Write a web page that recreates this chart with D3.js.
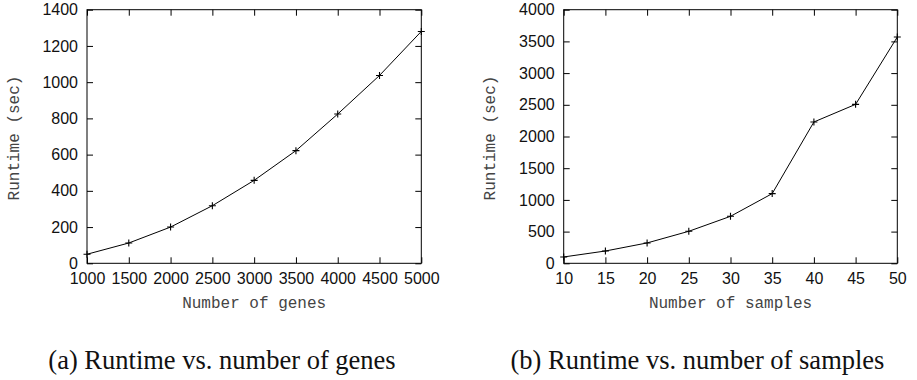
<!DOCTYPE html>
<html>
<head>
<meta charset="utf-8">
<script src="https://cdn.jsdelivr.net/npm/d3@7"></script>
<style>
  body { margin: 0; background: #fff; }
  svg { display: block; }
  .tick text { font-family: "Liberation Sans", Arial, sans-serif; font-size: 16px; fill: #111; }
  .axis-title { font-family: "Liberation Mono", "Courier New", monospace; font-size: 16px; fill: #444; }
  .caption { font-family: "Liberation Serif", "Times New Roman", serif; font-size: 26.5px; fill: #111; }
</style>
</head>
<body>
<svg id="chart" width="917" height="380"></svg>
<script>
// (a) runtime vs number of genes
const genesX = [1000, 1500, 2000, 2500, 3000, 3500, 4000, 4500, 5000];
const genesRuntime = [50, 112, 200, 318, 458, 622, 824, 1037, 1280];
const genesXTicks = [1000, 1500, 2000, 2500, 3000, 3500, 4000, 4500, 5000];
const genesYTicks = [0, 200, 400, 600, 800, 1000, 1200, 1400];

// (b) runtime vs number of samples
const samplesX = [10, 15, 20, 25, 30, 35, 40, 45, 50];
const samplesRuntime = [100, 194, 321, 505, 741, 1099, 2229, 2507, 3569];
const samplesXTicks = [10, 15, 20, 25, 30, 35, 40, 45, 50];
const samplesYTicks = [0, 500, 1000, 1500, 2000, 2500, 3000, 3500, 4000];

const svg = d3.select("#chart");
const plotTop = 9.7, plotBottom = 263.3, tick = 6;

function drawPanel(p) {
  const x = d3.scaleLinear().domain(d3.extent(p.xTicks)).range([p.left, p.right]);
  const y = d3.scaleLinear().domain(d3.extent(p.yTicks)).range([plotBottom, plotTop]);
  const g = svg.append("g");

  // ticks on all four sides, pointing inwards (gnuplot style)
  g.append("g").attr("transform", `translate(0,${plotBottom})`)
    .call(d3.axisBottom(x).tickValues(p.xTicks).tickSize(-tick).tickPadding(9.5).tickFormat(d3.format("d")));
  g.append("g").attr("transform", `translate(0,${plotTop})`)
    .call(d3.axisTop(x).tickValues(p.xTicks).tickSize(-tick).tickFormat(""));
  g.append("g").attr("transform", `translate(${p.left},0)`)
    .call(d3.axisLeft(y).tickValues(p.yTicks).tickSize(-tick).tickPadding(9).tickFormat(d3.format("d")));
  g.append("g").attr("transform", `translate(${p.right},0)`)
    .call(d3.axisRight(y).tickValues(p.yTicks).tickSize(-tick).tickFormat(""));
  g.selectAll(".domain").remove();
  g.selectAll(".tick line").attr("stroke", "#000");

  g.append("rect")
    .attr("x", p.left).attr("y", plotTop)
    .attr("width", p.right - p.left).attr("height", plotBottom - plotTop)
    .attr("fill", "none").attr("stroke", "#000").attr("stroke-width", 1);

  const pts = p.xs.map((v, i) => [v, p.ys[i]]);
  g.append("path")
    .datum(pts)
    .attr("fill", "none")
    .attr("stroke", "#000")
    .attr("stroke-width", 1)
    .attr("d", d3.line().x(d => x(d[0])).y(d => y(d[1])));

  // "+" point markers
  const s = 3.5;
  g.selectAll(".pt").data(pts).enter().append("path")
    .attr("class", "pt")
    .attr("fill", "none").attr("stroke", "#000").attr("stroke-width", 1.1)
    .attr("d", d => {
      const cx = x(d[0]), cy = y(d[1]);
      return `M${cx - s},${cy}H${cx + s}M${cx},${cy - s}V${cy + s}`;
    });

  g.append("text").attr("class", "axis-title")
    .attr("text-anchor", "middle")
    .attr("x", (p.left + p.right) / 2)
    .attr("y", 308)
    .text(p.xTitle);

  g.append("text").attr("class", "axis-title")
    .attr("text-anchor", "middle")
    .attr("transform", `translate(${p.yTitleX},138) rotate(-90)`)
    .text("Runtime (sec)");

  g.append("text").attr("class", "caption")
    .attr("text-anchor", "middle")
    .attr("x", p.captionX)
    .attr("y", 369)
    .text(p.caption);
}

drawPanel({
  left: 87, right: 421.3,
  xs: genesX, ys: genesRuntime, xTicks: genesXTicks, yTicks: genesYTicks,
  xTitle: "Number of genes", yTitleX: 18.5, captionX: 222,
  caption: "(a) Runtime vs. number of genes"
});

drawPanel({
  left: 563.7, right: 897.3,
  xs: samplesX, ys: samplesRuntime, xTicks: samplesXTicks, yTicks: samplesYTicks,
  xTitle: "Number of samples", yTitleX: 494.5, captionX: 697.5,
  caption: "(b) Runtime vs. number of samples"
});
</script>
</body>
</html>
